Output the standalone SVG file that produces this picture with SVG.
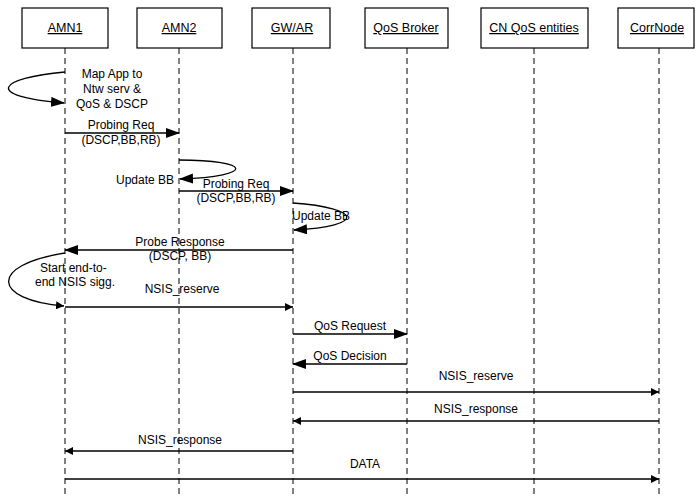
<svg xmlns="http://www.w3.org/2000/svg" width="696" height="497" viewBox="0 0 696 497">
<defs>
<style>
.box{fill:#fff;stroke:#000;stroke-width:1.2}
.hd{font-family:"Liberation Sans",Arial,sans-serif;font-size:12.5px;text-decoration:underline;text-anchor:middle;fill:#000}
.life{stroke:#000;stroke-width:1;stroke-dasharray:6,4;fill:none}
.msg{stroke:#000;stroke-width:1.3;fill:none}
.t{font-family:"Liberation Sans",Arial,sans-serif;font-size:12px;fill:#000}
.c{text-anchor:middle}
</style>
<marker id="big" viewBox="0 0 14 10" refX="13" refY="5" markerWidth="14" markerHeight="10" markerUnits="userSpaceOnUse" orient="auto">
<path d="M0,0 L14,5 L0,10 Z" fill="#000"/>
</marker>
<marker id="sm" viewBox="0 0 8 8" refX="8" refY="4" markerWidth="8" markerHeight="8" markerUnits="userSpaceOnUse" orient="auto">
<path d="M0,0 L8,4 L0,8 Z" fill="#000"/>
</marker>
</defs>
<rect width="696" height="497" fill="#fff"/>
<g id="AMN1"><rect class="box" x="22" y="8" width="86" height="40"/><text class="hd" x="65" y="32">AMN1</text><line class="life" x1="65" y1="48" x2="65" y2="497"/></g>
<g id="AMN2"><rect class="box" x="137" y="8" width="85" height="40"/><text class="hd" x="179" y="32">AMN2</text><line class="life" x1="179" y1="48" x2="179" y2="497"/></g>
<g id="GWAR"><rect class="box" x="252" y="8" width="78" height="40"/><text class="hd" x="292" y="32">GW/AR</text><line class="life" x1="293" y1="48" x2="293" y2="497"/></g>
<g id="QoSBroker"><rect class="box" x="365" y="8" width="83" height="40"/><text class="hd" x="406" y="32">QoS Broker</text><line class="life" x1="407" y1="48" x2="407" y2="497"/></g>
<g id="CNQoS"><rect class="box" x="481" y="8" width="107" height="40"/><text class="hd" x="534" y="32">CN QoS entities</text><line class="life" x1="534" y1="48" x2="534" y2="497"/></g>
<g id="CorrNode"><rect class="box" x="618" y="8" width="76" height="40"/><text class="hd" x="657" y="32">CorrNode</text><line class="life" x1="659" y1="48" x2="659" y2="497"/></g>
<g id="connectors">
<path class="msg" d="M65,72 C-2,78 -18,96 64,103" marker-end="url(#big)"/>
<line class="msg" x1="65" y1="133" x2="179" y2="133" marker-end="url(#big)"/>
<path class="msg" d="M179,160 C252,160 257,176 180,179" marker-end="url(#big)"/>
<line class="msg" x1="179" y1="191" x2="293" y2="191" marker-end="url(#big)"/>
<path class="msg" d="M293,203 C362,208 367,226 294,230" marker-end="url(#big)"/>
<line class="msg" x1="293" y1="250" x2="65" y2="250" marker-end="url(#big)"/>
<path class="msg" d="M65,253 C-12,265 -8,300 64,306" marker-end="url(#sm)"/>
<line class="msg" x1="65" y1="307" x2="293" y2="307" marker-end="url(#sm)"/>
<line class="msg" x1="293" y1="334" x2="407" y2="334" marker-end="url(#big)"/>
<line class="msg" x1="407" y1="364" x2="293" y2="364" marker-end="url(#big)"/>
<line class="msg" x1="293" y1="392" x2="659" y2="392" marker-end="url(#sm)"/>
<line class="msg" x1="659" y1="421" x2="293" y2="421" marker-end="url(#sm)"/>
<line class="msg" x1="293" y1="451" x2="65" y2="451" marker-end="url(#sm)"/>
<line class="msg" x1="65" y1="479" x2="659" y2="479" marker-end="url(#sm)"/>
</g>
<g id="labels">
<text class="t c" x="112" y="78">Map App to</text>
<text class="t c" x="112" y="93">Ntw serv &amp;</text>
<text class="t c" x="112" y="108">QoS &amp; DSCP</text>
<text class="t c" x="121" y="129">Probing Req</text>
<text class="t c" x="121" y="144">(DSCP,BB,RB)</text>
<text class="t" x="116" y="184">Update BB</text>
<text class="t c" x="236" y="188">Probing Req</text>
<text class="t c" x="236" y="202">(DSCP,BB,RB)</text>
<text class="t" x="292" y="220">Update BB</text>
<text class="t c" x="180" y="246">Probe Response</text>
<text class="t c" x="180" y="260">(DSCP, BB)</text>
<text class="t" x="40" y="272">Start end-to-</text>
<text class="t" x="35" y="286">end NSIS sigg.</text>
<text class="t c" x="182" y="293">NSIS_reserve</text>
<text class="t c" x="350" y="330">QoS Request</text>
<text class="t c" x="350" y="360">QoS Decision</text>
<text class="t c" x="476" y="380">NSIS_reserve</text>
<text class="t c" x="476" y="413">NSIS_response</text>
<text class="t c" x="180" y="444">NSIS_response</text>
<text class="t c" x="365" y="468">DATA</text>
</g>
</svg>
